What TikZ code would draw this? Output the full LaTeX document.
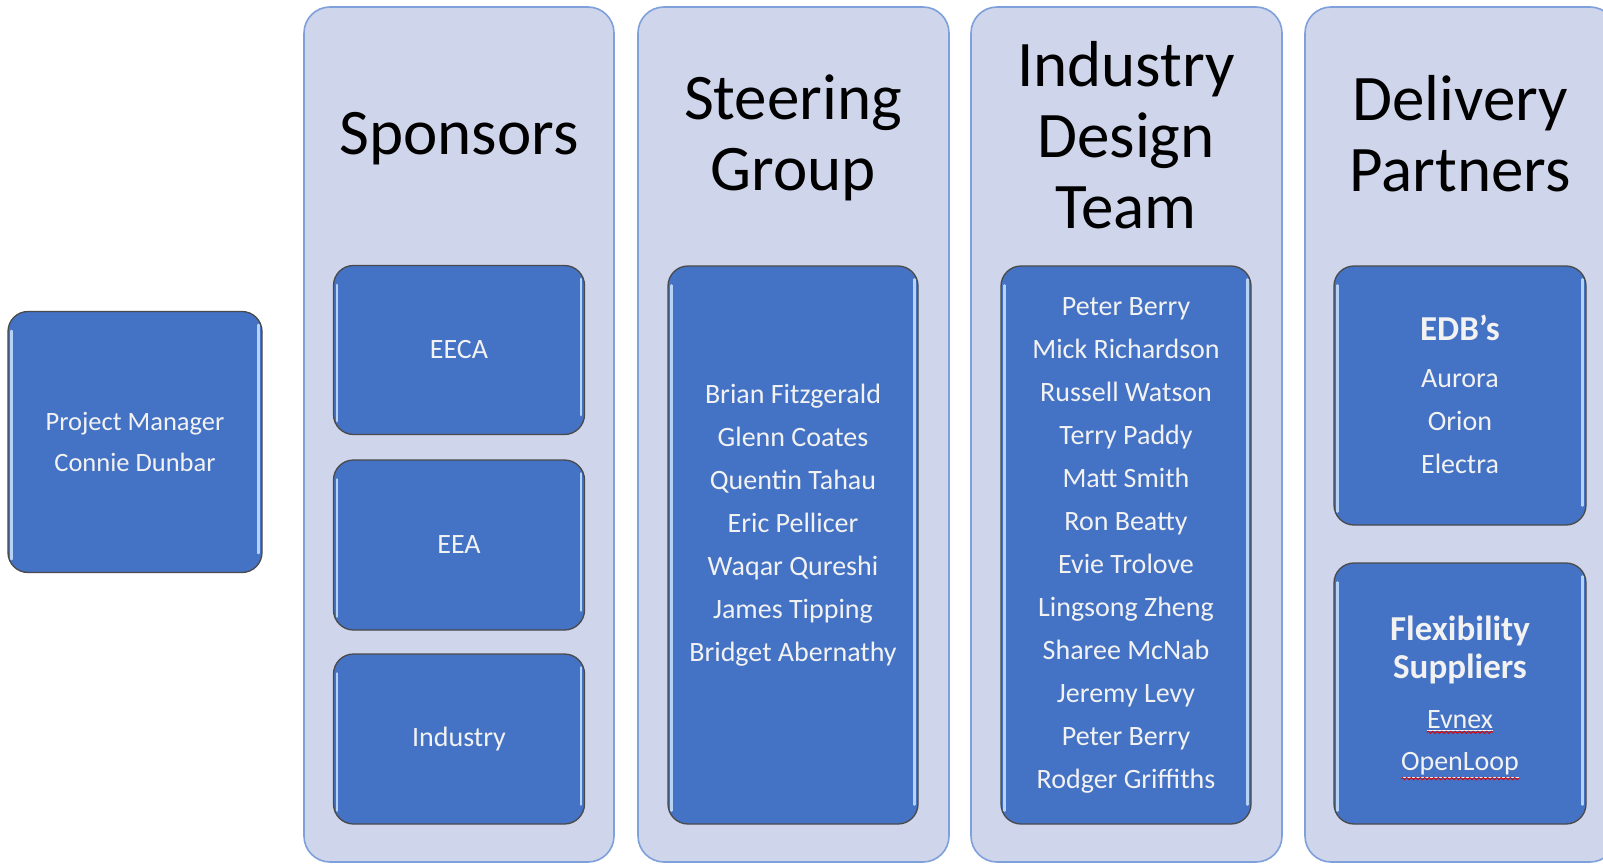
\documentclass[tikz,border=0pt]{standalone}
\usepackage{fontspec}
\setmainfont{Carlito}
\usetikzlibrary{decorations.pathmorphing}
\definecolor{colfill}{HTML}{CFD5EA}
\definecolor{colline}{HTML}{7EA0DB}
\definecolor{boxblue}{HTML}{4472C4}
\definecolor{boxline}{HTML}{4A4A4A}
\definecolor{hilite}{HTML}{B4D3F7}
\definecolor{txtw}{HTML}{F2F2F2}
\begin{document}
\begin{tikzpicture}[x=1pt,y=-1pt,
  column/.style={draw=colline, fill=colfill, line width=1.6pt, rounded corners=26pt},
  bluebox/.style={draw=boxline, fill=boxblue, line width=1.3pt, rounded corners=20pt, inner sep=0pt},
  title/.style={font=\fontsize{65}{71}\selectfont, align=center, text=black},
  body/.style={font=\fontsize{28}{43}\selectfont, align=center, text=txtw},
  bodyhead/.style={font=\fontsize{35}{38}\selectfont\bfseries, align=center, text=txtw},
  shine/.style={draw=hilite, line width=2.4pt, line cap=round},
  spell/.style={draw=red!85!black, line width=0.9pt, decorate, decoration={snake, amplitude=1.1pt, segment length=4.5pt}},
]
\useasboundingbox (0,0) rectangle (1603,864);
\fill[white] (0,0) rectangle (1603,864);

% columns
\draw[column] (304,7) rectangle (614,862);
\draw[column] (638,7) rectangle (949,862);
\draw[column] (971,7) rectangle (1282,862);
\draw[column] (1305,7) rectangle (1616,862);

% column titles
\node[title] (tsp) at (459,139) {Sponsors};
\node[title] (tst) at (793,138) {Steering\\Group};
\node[title] (tid) at (1126,135) {Industry\\Design\\Team};
\node[title] (tdp) at (1460,134) {Delivery\\Partners};

% blue boxes
\node[bluebox, minimum width=254pt, minimum height=261pt] (pm) at (135,442) {};
\node[bluebox, minimum width=251pt, minimum height=169pt] (eeca) at (459,350) {};
\node[bluebox, minimum width=251pt, minimum height=170pt] (eea) at (459,545) {};
\node[bluebox, minimum width=251pt, minimum height=170pt] (ind) at (459,739) {};
\node[bluebox, minimum width=250pt, minimum height=558pt] (steer) at (793,545) {};
\node[bluebox, minimum width=250pt, minimum height=558pt] (idt) at (1126,545) {};
\node[bluebox, minimum width=252pt, minimum height=259pt] (edb) at (1460,395.5) {};
\node[bluebox, minimum width=252pt, minimum height=261pt] (flex) at (1460,693.5) {};

% bevel highlights
\foreach \b in {pm,eeca,eea,ind,steer,idt,edb,flex}{
  \draw[shine] ([xshift=4pt,yshift=-20pt]\b.north west) -- ([xshift=4pt,yshift=14pt]\b.south west);
  \draw[shine] ([xshift=-4pt,yshift=-14pt]\b.north east) -- ([xshift=-4pt,yshift=20pt]\b.south east);
}

% texts
\node[body, font=\fontsize{26.5}{41}\selectfont] (pmt) at (135,442) {Project Manager\\Connie Dunbar};
\node[body] (eecat) at (459,350) {EECA};
\node[body] (eeat) at (459,545) {EEA};
\node[body] (indt) at (459,739) {Industry};
\node[body] (steert) at (793,525) {Brian Fitzgerald\\Glenn Coates\\Quentin Tahau\\Eric Pellicer\\Waqar Qureshi\\James Tipping\\Bridget Abernathy};
\node[body] (idtt) at (1126,545) {Peter Berry\\Mick Richardson\\Russell Watson\\Terry Paddy\\Matt Smith\\Ron Beatty\\Evie Trolove\\Lingsong Zheng\\Sharee McNab\\Jeremy Levy\\Peter Berry\\Rodger Griffiths};
\node[bodyhead] (edbh) at (1460,328) {EDB’s};
\node[body] (edbt) at (1460,422) {Aurora\\Orion\\Electra};
\node[bodyhead] (flexh) at (1460,650) {Flexibility\\Suppliers};
\node[body, inner sep=0pt] (evx) at (1460,721) {\underline{Evnex}};
\node[body, inner sep=0pt] (olp) at (1460,765) {\underline{OpenLoop}};
\draw[spell] ([yshift=-1pt]evx.south west) -- ([yshift=-1pt]evx.south east);
\draw[spell] ([yshift=-1pt]olp.south west) -- ([yshift=-1pt]olp.south east);
\end{tikzpicture}
\end{document}
